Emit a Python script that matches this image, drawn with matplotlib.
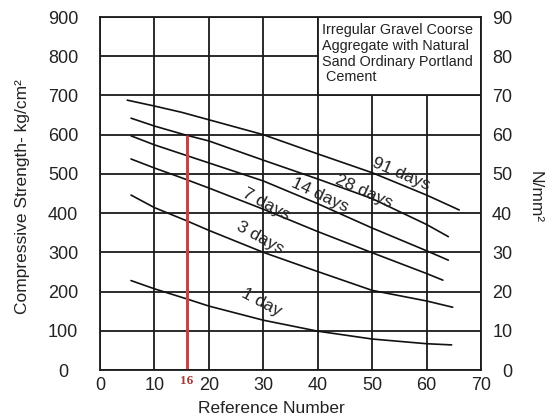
import matplotlib
matplotlib.use("Agg")
import matplotlib.pyplot as plt
from matplotlib.patches import Rectangle

plt.rcParams['font.family'] = ['Liberation Sans', 'DejaVu Sans']

# ---- data ----
ref_91 = [5, 10, 15, 20, 30, 40, 50, 60, 66]
val_91 = [688, 673, 657, 638, 600, 551, 503, 446, 408]

ref_28 = [5.7, 10, 15.5, 20, 30, 40, 50, 60, 64]
val_28 = [642, 622, 600, 584, 535, 487, 437, 371, 340]

ref_14 = [5.7, 10, 15, 20, 30, 40, 50, 60, 64]
val_14 = [597, 574, 551, 528, 482, 424, 362, 304, 280]

ref_7 = [5.7, 10, 15, 20, 30, 40, 50, 60, 63]
val_7 = [538, 515, 490, 464, 410, 353, 299, 246, 229]

ref_3 = [5.7, 10, 16, 20, 30, 40, 50, 60, 64.8]
val_3 = [446, 414, 380, 356, 300, 251, 203, 176, 160]

ref_1 = [5.7, 10, 16, 20, 30, 40, 50, 60, 64.6]
val_1 = [228, 207, 181, 163, 127, 99, 79, 67, 64]

curve_labels = ["91 days", "28 days", "14 days", "7 days", "3 days", "1 day"]
label_pos_x = [55.3, 48.5, 40.4, 30.6, 29.4, 29.6]
label_pos_y = [500, 456, 446, 423, 338, 173]
label_rot = [-23, -24, -25, -28, -29, -28]

x_ticks = [0, 10, 20, 30, 40, 50, 60, 70]
y_ticks = [0, 100, 200, 300, 400, 500, 600, 700, 800, 900]
y2_ticks = [0, 10, 20, 30, 40, 50, 60, 70, 80, 90]

ref_marker = 16
ref_marker_val = 600

note = "Irregular Gravel Coorse\nAggregate with Natural\nSand Ordinary Portland\n Cement"

# ---- figure ----
fig = plt.figure(figsize=(5.45, 4.19), dpi=100)
ax = fig.add_axes([100/545, 49/419, 381/545, 353/419])

ax.set_xlim(0, 70)
ax.set_ylim(0, 900)
ax.set_xticks(x_ticks)
ax.set_yticks(y_ticks)
ax.grid(True, color='#1a1a1a', linewidth=1.3)
ax.set_axisbelow(True)
for s in ax.spines.values():
    s.set_linewidth(1.3)
    s.set_color('#1a1a1a')

ax.tick_params(axis='y', length=0, pad=26.5, labelsize=13, colors='#222222')
ax.tick_params(axis='x', length=0, pad=5, labelsize=13, colors='#222222')
for lab in ax.get_yticklabels():
    lab.set_horizontalalignment('center')

# annotation box covering the grid
ax.add_patch(Rectangle((40, 700), 30, 200, facecolor='white',
                       edgecolor='#1a1a1a', linewidth=1.3, zorder=1.5))
ax.text(40.8, 885, note, fontsize=10.4, va='top', ha='left',
        linespacing=1.17, color='#222222', zorder=3)

series = [(ref_91, val_91), (ref_28, val_28), (ref_14, val_14),
          (ref_7, val_7), (ref_3, val_3), (ref_1, val_1)]
for (xs, ys) in series:
    ax.plot(xs, ys, color='#111111', linewidth=1.2, zorder=2,
            solid_capstyle='round', solid_joinstyle='round')

for t, lx, ly, r in zip(curve_labels, label_pos_x, label_pos_y, label_rot):
    ax.text(lx, ly, t, fontsize=12.5, rotation=r, ha='center', va='center',
            rotation_mode='anchor', color='#222222', zorder=3)

# reference marker line
ax.plot([ref_marker, ref_marker], [0, ref_marker_val], color='#b84a4a',
        linewidth=2.2, zorder=2.5, solid_capstyle='butt')
ax.text(ref_marker, -12, str(ref_marker), color='#a83a3a', fontsize=9.5,
        family='Liberation Serif', fontweight='bold', ha='center', va='top')

ax.set_xlabel("Reference Number", fontsize=12.5, color='#222222')
ax.xaxis.label.set_verticalalignment('center')
ax.xaxis.set_label_coords(0.45, -0.108)
ax.set_ylabel("Compressive Strength- kg/cm²", fontsize=12.5, color='#222222')
ax.yaxis.label.set_verticalalignment('center')
ax.yaxis.set_label_coords(-0.203, 0.49)

ax2 = ax.twinx()
ax2.set_ylim(0, 90)
ax2.set_yticks(y2_ticks)
ax2.tick_params(axis='y', length=0, pad=22.5, labelsize=13, colors='#222222')
for lab in ax2.get_yticklabels():
    lab.set_horizontalalignment('right')
for s in ax2.spines.values():
    s.set_visible(False)
ax2.set_ylabel("N/mm²", fontsize=12.5, rotation=270, color='#222222')
ax2.yaxis.label.set_verticalalignment('center')
ax2.yaxis.set_label_coords(1.142, 0.49)

fig.savefig("out.png", dpi=100)
